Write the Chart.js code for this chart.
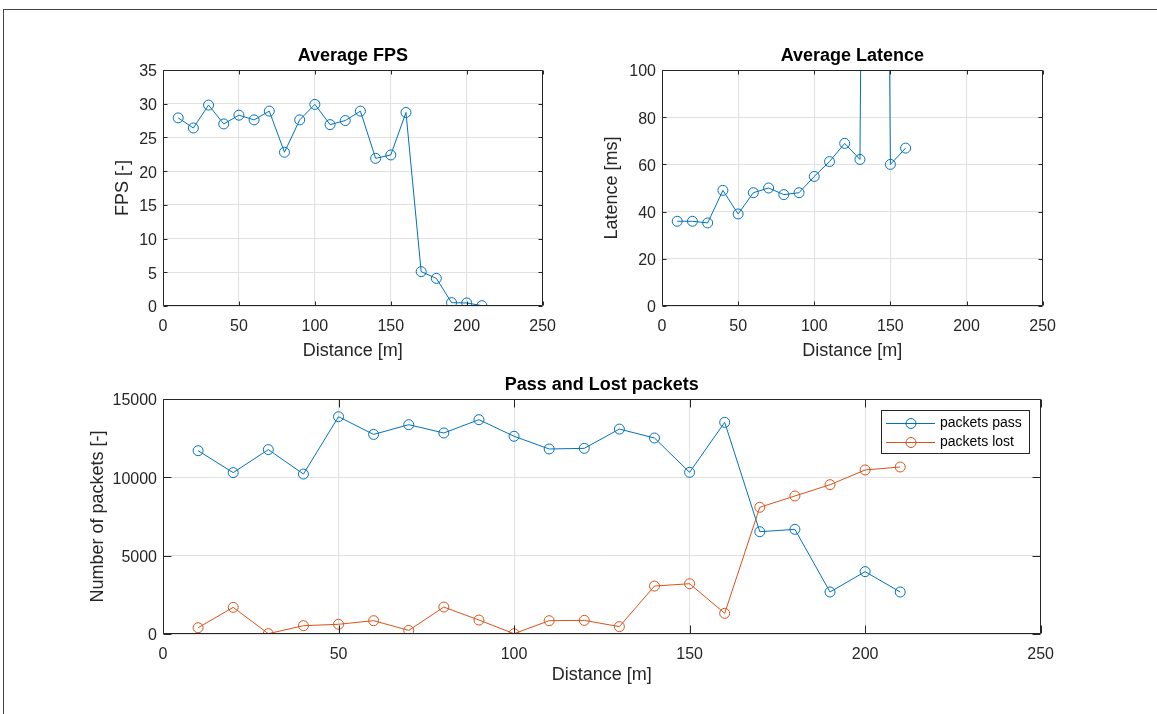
<!DOCTYPE html>
<html>
<head>
<meta charset="utf-8">
<script src="https://cdn.jsdelivr.net/npm/chart.js@4.4.1/dist/chart.umd.min.js"></script>
<style>
html,body{margin:0;padding:0;background:#fff;}
body{width:1157px;height:714px;position:relative;overflow:hidden;}
#frame{position:absolute;left:3px;top:9px;width:1200px;height:800px;border-top:1px solid #454545;border-left:1px solid #454545;}
canvas{position:absolute;}
</style>
</head>
<body>
<div id="frame"></div>
<canvas id="c1" width="527" height="340" style="left:40px;top:30px"></canvas>
<canvas id="c2" width="507" height="340" style="left:560px;top:30px"></canvas>
<canvas id="c3" width="1025" height="340" style="left:40px;top:360px"></canvas>
<script>
// ---------- data ----------
const distance = [10,20,30,40,50,60,70,80,90,100,110,120,130,140,150,160,170,180,190,200,210];
const fps = [27.9,26.4,29.8,27.0,28.3,27.6,28.9,22.8,27.6,29.9,26.9,27.5,28.9,21.9,22.4,28.7,5.1,4.1,0.5,0.45,0.05];
const latencyDistance = [10,20,30,40,50,60,70,80,90,100,110,120,130,140,150,160];
const latency = [35.9,35.9,35.2,49.0,39.0,48.0,50.0,47.2,48.0,54.9,61.2,68.9,62.1,900,60.0,66.9];
const packetsPass = [11700,10300,11770,10210,13870,12740,13360,12830,13680,12620,11810,11850,13080,12510,10320,13510,6530,6680,2680,3980,2680];
const packetsLost = [400,1700,20,530,620,850,230,1720,890,20,850,870,470,3060,3210,1320,8090,8810,9530,10470,10660];

const xTicks = [0,50,100,150,200,250];
const fpsTicks = [0,5,10,15,20,25,30,35];
const latencyTicks = [0,20,40,60,80,100];
const packetTicks = [0,5000,10000,15000];

const seriesLabels = ['packets pass','packets lost'];
const titles = ['Average FPS','Average Latence','Pass and Lost packets'];
const xLabel = 'Distance [m]';
const yLabels = ['FPS [-]','Latence [ms]','Number of packets [-]'];

// ---------- style ----------
const FAMILY = '"Liberation Sans", Arial, Helvetica, sans-serif';
Chart.defaults.font.family = FAMILY;
const AXIS = '#262626';
const GRID = '#e1e1e1';
const BLUE = '#0072BD';
const ORANGE = '#D95319';

const matlabFrame = {
  id: 'matlabFrame',
  afterDatasetsDraw(chart, args, opts) {
    const {ctx, chartArea} = chart;
    const xs = chart.scales.x, ys = chart.scales.y;
    const L = Math.round(chartArea.left) + 0.5, R = Math.round(chartArea.right) - 0.5;
    const T = Math.round(chartArea.top) + 0.5, B = Math.round(chartArea.bottom) - 0.5;
    const tl = opts.tickLen || 4;
    ctx.save();
    ctx.strokeStyle = AXIS;
    ctx.lineWidth = 1;
    ctx.beginPath();
    ctx.rect(L, T, R - L, B - T);
    xs.ticks.forEach(t => {
      const p = Math.round(xs.getPixelForValue(t.value)) + 0.5;
      ctx.moveTo(p, B); ctx.lineTo(p, B - tl);
      ctx.moveTo(p, T); ctx.lineTo(p, T + tl);
    });
    ys.ticks.forEach(t => {
      const p = Math.round(ys.getPixelForValue(t.value)) + 0.5;
      ctx.moveTo(L, p); ctx.lineTo(L + tl, p);
      ctx.moveTo(R, p); ctx.lineTo(R - tl, p);
    });
    ctx.stroke();
    ctx.restore();
  }
};

const legendBox = {
  id: 'legendBox',
  afterDraw(chart, args, opts) {
    if (!opts.show) return;
    const {ctx, chartArea} = chart;
    const w = 148, h = 43;
    const x0 = Math.round(chartArea.right - 12 - w), y0 = Math.round(chartArea.top + 11);
    ctx.save();
    ctx.fillStyle = '#fff';
    ctx.fillRect(x0, y0, w, h);
    ctx.strokeStyle = AXIS;
    ctx.lineWidth = 1;
    ctx.strokeRect(x0 + 0.5, y0 + 0.5, w, h);
    chart.data.datasets.forEach((ds, i) => {
      const cy = y0 + 13.5 + i * 19;
      ctx.strokeStyle = ds.borderColor;
      ctx.lineWidth = 1;
      ctx.beginPath();
      ctx.moveTo(x0 + 5, cy); ctx.lineTo(x0 + 54, cy);
      ctx.stroke();
      ctx.beginPath();
      ctx.arc(x0 + 30, cy, 5, 0, Math.PI * 2);
      ctx.stroke();
      ctx.fillStyle = '#000';
      ctx.font = '14px ' + FAMILY;
      ctx.textBaseline = 'middle';
      ctx.textAlign = 'left';
      ctx.fillText(ds.label, x0 + 59, cy);
    });
    ctx.restore();
  }
};

function series(label, xs, ys, color, extra) {
  return Object.assign({
    label,
    data: xs.map((x, i) => ({x, y: ys[i]})),
    borderColor: color,
    borderWidth: 1,
    pointRadius: 5,
    pointHoverRadius: 5,
    pointBorderWidth: 1,
    pointBorderColor: color,
    pointBackgroundColor: 'rgba(0,0,0,0)',
    tension: 0,
    fill: false
  }, extra || {});
}

function build(id, c) {
  return new Chart(document.getElementById(id), {
    type: 'line',
    data: {datasets: c.datasets},
    plugins: [matlabFrame, legendBox],
    options: {
      responsive: false,
      animation: false,
      devicePixelRatio: 1,
      events: [],
      layout: {padding: {left: 0, right: c.padRight, top: 0, bottom: 0}},
      plugins: {
        legend: {display: false},
        tooltip: {enabled: false},
        title: {
          display: true, text: c.title, fullSize: false, color: '#000',
          font: {size: 18, weight: 'bold', lineHeight: 1.2},
          padding: {top: c.titlePadTop, bottom: c.titlePadBottom}
        },
        matlabFrame: {tickLen: c.tickLen},
        legendBox: {show: !!c.legend}
      },
      scales: {
        x: {
          type: 'linear',
          min: xTicks[0], max: xTicks[xTicks.length - 1],
          afterBuildTicks: s => { s.ticks = xTicks.map(v => ({value: v})); },
          afterFit: s => { s.height = c.xHeight; },
          ticks: {color: AXIS, font: {size: 16}, padding: 11, maxRotation: 0, autoSkip: false, callback: v => String(v)},
          grid: {color: GRID, drawTicks: false, lineWidth: 1},
          border: {display: false},
          title: {display: true, text: xLabel, color: AXIS, font: {size: 18, lineHeight: 1.2}, padding: {top: 0, bottom: c.xTitlePad}}
        },
        y: {
          type: 'linear',
          min: c.yTicks[0], max: c.yTicks[c.yTicks.length - 1],
          afterBuildTicks: s => { s.ticks = c.yTicks.map(v => ({value: v})); },
          afterFit: s => { s.width = c.yWidth; },
          ticks: {color: AXIS, font: {size: 16}, padding: 6, labelOffset: 2, autoSkip: false, callback: v => String(v)},
          grid: {color: GRID, drawTicks: false, lineWidth: 1},
          border: {display: false},
          title: {display: true, text: c.yTitle, color: AXIS, font: {size: 18, lineHeight: 1.2}, padding: {top: c.yTitlePad, bottom: 0}}
        }
      }
    }
  });
}

build('c1', {
  datasets: [series('FPS', distance, fps, BLUE)],
  yTicks: fpsTicks, title: titles[0], yTitle: yLabels[0],
  padRight: 0, yWidth: 123, yTitlePad: 72.2, xHeight: 64, xTitlePad: 7.9,
  titlePadTop: 15.7, titlePadBottom: 2.7, tickLen: 4
});

build('c2', {
  datasets: [series('Latency', latencyDistance, latency, BLUE, {clip: 0})],
  yTicks: latencyTicks, title: titles[1], yTitle: yLabels[1],
  padRight: 0, yWidth: 102, yTitlePad: 41.7, xHeight: 64, xTitlePad: 7.9,
  titlePadTop: 15.7, titlePadBottom: 2.7, tickLen: 4
});

build('c3', {
  datasets: [
    series(seriesLabels[0], distance, packetsPass, BLUE),
    series(seriesLabels[1], distance, packetsLost, ORANGE)
  ],
  yTicks: packetTicks, title: titles[2], yTitle: yLabels[2],
  padRight: 0, yWidth: 123, yTitlePad: 47.2, xHeight: 66, xTitlePad: 14.4,
  titlePadTop: 14.2, titlePadBottom: 3.2, tickLen: 8, legend: true
});
</script>
</body>
</html>
